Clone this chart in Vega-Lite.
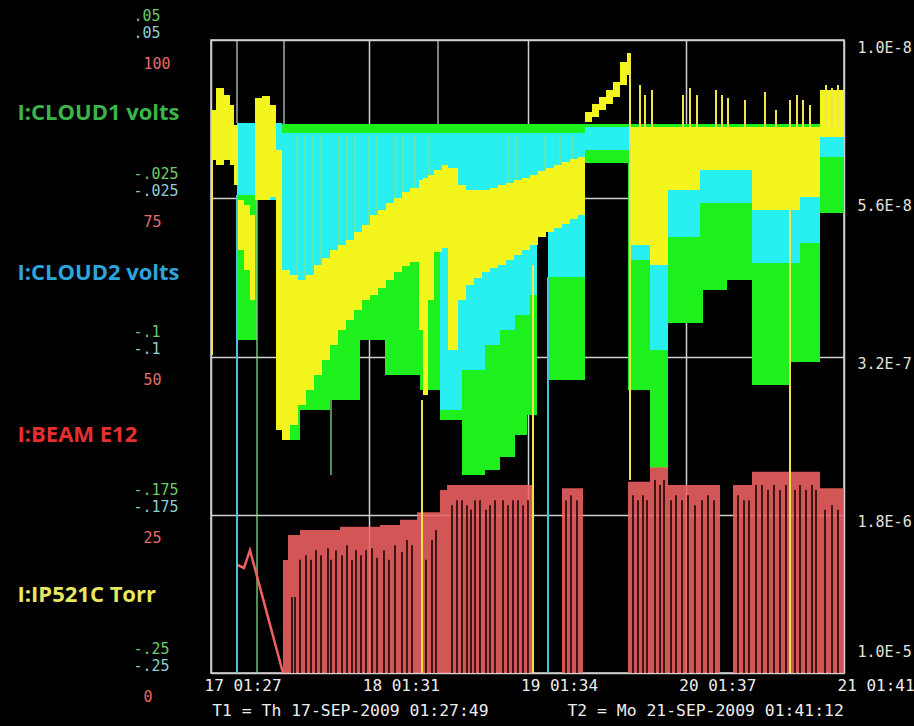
{
  "$schema": "https://vega.github.io/schema/vega-lite/v6.json",
  "width": 633,
  "height": 633,
  "autosize": {"type": "none"},
  "padding": {"left": 211, "top": 40, "right": 70, "bottom": 53},
  "background": "#000000",
  "config": {
    "view": {"stroke": "#d8d8d8", "strokeWidth": 1.5},
    "axis": {"labelOverlap": false, "labelFlush": false, "labelBound": false, "domain": false, "ticks": false, "tickSize": 0, "title": null}
  },
  "datasets": {
    "cloud1": [
      {"day": 0.1643, "hi": 0.0102, "lo": -0.0922},
      {"day": 0.2907, "hi": 0.0102, "lo": -0.0258},
      {"day": 0.4487, "hi": 0.0102, "lo": -0.1396},
      {"day": 0.5624, "hi": 0.0102, "lo": -0.1254},
      {"day": 0.7520, "hi": 0.0102, "lo": -0.1206},
      {"day": 0.9415, "hi": 0.0102, "lo": -0.0922},
      {"day": 1.0995, "hi": 0.0102, "lo": -0.1088},
      {"day": 1.3207, "hi": 0.0102, "lo": -0.1159},
      {"day": 1.4471, "hi": 0.0102, "lo": -0.1301},
      {"day": 1.5861, "hi": 0.0102, "lo": -0.1562},
      {"day": 1.7314, "hi": 0.0102, "lo": -0.1538},
      {"day": 1.8262, "hi": 0.0102, "lo": -0.1476},
      {"day": 1.9210, "hi": 0.0102, "lo": -0.1372},
      {"day": 1.9968, "hi": 0.0102, "lo": -0.1277},
      {"day": 2.0600, "hi": 0.0102, "lo": -0.0400},
      {"day": 2.1295, "hi": 0.0102, "lo": -0.1111},
      {"day": 2.3633, "hi": 0.0102, "lo": -0.0083},
      {"day": 2.6351, "hi": 0.0102, "lo": -0.1159},
      {"day": 2.7741, "hi": 0.0102, "lo": -0.1528},
      {"day": 2.8878, "hi": 0.0102, "lo": -0.0841},
      {"day": 3.1090, "hi": 0.0102, "lo": -0.0685},
      {"day": 3.2607, "hi": 0.0102, "lo": -0.0637},
      {"day": 3.4186, "hi": 0.0102, "lo": -0.1135},
      {"day": 3.6588, "hi": 0.0102, "lo": -0.1026},
      {"day": 3.8483, "hi": 0.0102, "lo": -0.0320},
      {"day": 4.0, "hi": 0.0102, "lo": -0.0320}
    ],
    "cloud2": [
      {"day": 0.1643, "hi": 0.0107, "lo": -0.0235},
      {"day": 0.2907, "hi": 0.0107, "lo": -0.0258},
      {"day": 0.4487, "hi": 0.0059, "lo": -0.0732},
      {"day": 0.5624, "hi": 0.0059, "lo": -0.0685},
      {"day": 0.7520, "hi": 0.0059, "lo": -0.0543},
      {"day": 0.9415, "hi": 0.0059, "lo": -0.0424},
      {"day": 1.1943, "hi": 0.0059, "lo": -0.0282},
      {"day": 1.4471, "hi": 0.0059, "lo": -0.1254},
      {"day": 1.5861, "hi": 0.0059, "lo": -0.1064},
      {"day": 1.7314, "hi": 0.0059, "lo": -0.0946},
      {"day": 1.8262, "hi": 0.0059, "lo": -0.0874},
      {"day": 1.9210, "hi": 0.0059, "lo": -0.0803},
      {"day": 2.0158, "hi": 0.0059, "lo": -0.0709},
      {"day": 2.0600, "hi": 0.0059, "lo": -0.0400},
      {"day": 2.1295, "hi": 0.0059, "lo": -0.0623},
      {"day": 2.3633, "hi": 0.0088, "lo": -0.0021},
      {"day": 2.6477, "hi": 0.0073, "lo": -0.0543},
      {"day": 2.7741, "hi": 0.0073, "lo": -0.0969},
      {"day": 2.8878, "hi": 0.0073, "lo": -0.0434},
      {"day": 3.0900, "hi": 0.0073, "lo": -0.0273},
      {"day": 3.4186, "hi": 0.0073, "lo": -0.0557},
      {"day": 3.7220, "hi": 0.0073, "lo": -0.0462},
      {"day": 3.8483, "hi": 0.0073, "lo": -0.0055},
      {"day": 4.0, "hi": 0.0073, "lo": -0.0055}
    ],
    "cloud1Spikes": [
      {"day": 0.2907, "hi": -0.0258, "lo": -0.25},
      {"day": 0.5435, "hi": 0.0050, "lo": -0.0685},
      {"day": 0.5940, "hi": 0.0050, "lo": -0.0637},
      {"day": 0.6446, "hi": 0.0050, "lo": -0.0590},
      {"day": 0.6951, "hi": 0.0050, "lo": -0.0661},
      {"day": 0.7583, "hi": -0.1206, "lo": -0.1562},
      {"day": 0.8089, "hi": 0.0050, "lo": -0.0543},
      {"day": 0.8594, "hi": 0.0050, "lo": -0.0495},
      {"day": 0.9100, "hi": 0.0050, "lo": -0.0448},
      {"day": 0.9985, "hi": 0.0050, "lo": -0.0472},
      {"day": 1.0490, "hi": 0.0050, "lo": -0.0424},
      {"day": 1.1627, "hi": 0.0050, "lo": -0.0353},
      {"day": 1.2132, "hi": 0.0050, "lo": -0.0329},
      {"day": 1.2891, "hi": 0.0050, "lo": -0.0282},
      {"day": 1.3776, "hi": 0.0050, "lo": -0.0258},
      {"day": 1.8768, "hi": 0.0050, "lo": -0.0211},
      {"day": 1.9273, "hi": 0.0050, "lo": -0.0211},
      {"day": 2.1106, "hi": 0.0050, "lo": -0.0211},
      {"day": 2.2054, "hi": 0.0050, "lo": -0.0211},
      {"day": 2.2812, "hi": 0.0050, "lo": -0.0211}
    ],
    "cloud2Spikes": [
      {"day": 0.1643, "hi": -0.0235, "lo": -0.25},
      {"day": 2.1295, "hi": -0.0623, "lo": -0.25}
    ],
    "cloud2TopSpikes": [
      {"day": 0.1643, "hi": 0.05, "lo": 0.0107},
      {"day": 0.4613, "hi": 0.05, "lo": 0.0102},
      {"day": 1.4345, "hi": 0.05, "lo": 0.0102}
    ],
    "ip521c": [
      {"day": 0.0063, "pmin": 2.147e-8, "pmax": 3.705e-8},
      {"day": 0.0316, "pmin": 1.689e-8, "pmax": 3.912e-8},
      {"day": 0.0821, "pmin": 1.823e-8, "pmax": 3.705e-8},
      {"day": 0.1201, "pmin": 2.033e-8, "pmax": 3.912e-8},
      {"day": 0.1453, "pmin": 2.528e-8, "pmax": 4.867e-8},
      {"day": 0.1706, "pmin": 5.733e-8, "pmax": 9.893e-8},
      {"day": 0.2085, "pmin": 6.053e-8, "pmax": 1.230e-7},
      {"day": 0.2464, "pmin": 6.752e-8, "pmax": 1.707e-7},
      {"day": 0.2780, "pmin": 1.883e-8, "pmax": 5.733e-8},
      {"day": 0.3223, "pmin": 1.843e-8, "pmax": 5.733e-8},
      {"day": 0.3728, "pmin": 2.033e-8, "pmax": 5.548e-8},
      {"day": 0.4107, "pmin": 3.321e-8, "pmax": 7.053e-7},
      {"day": 0.4487, "pmin": 1.230e-7, "pmax": 7.865e-7},
      {"day": 0.4992, "pmin": 1.299e-7, "pmax": 6.677e-7},
      {"day": 0.5498, "pmin": 1.372e-7, "pmax": 5.367e-7},
      {"day": 0.6003, "pmin": 1.299e-7, "pmax": 4.558e-7},
      {"day": 0.6509, "pmin": 1.165e-7, "pmax": 3.869e-7},
      {"day": 0.7014, "pmin": 1.079e-7, "pmax": 3.285e-7},
      {"day": 0.7520, "pmin": 9.893e-8, "pmax": 2.789e-7},
      {"day": 0.8025, "pmin": 9.368e-8, "pmax": 2.368e-7},
      {"day": 0.8531, "pmin": 8.869e-8, "pmax": 2.123e-7},
      {"day": 0.9036, "pmin": 8.128e-8, "pmax": 1.904e-7},
      {"day": 0.9542, "pmin": 7.530e-8, "pmax": 1.707e-7},
      {"day": 1.0047, "pmin": 6.752e-8, "pmax": 1.616e-7},
      {"day": 1.0553, "pmin": 6.393e-8, "pmax": 1.497e-7},
      {"day": 1.1058, "pmin": 5.923e-8, "pmax": 1.372e-7},
      {"day": 1.1564, "pmin": 5.609e-8, "pmax": 1.258e-7},
      {"day": 1.2069, "pmin": 5.253e-8, "pmax": 1.178e-7},
      {"day": 1.2575, "pmin": 5.029e-8, "pmax": 1.128e-7},
      {"day": 1.3144, "pmin": 4.608e-8, "pmax": 2.368e-7},
      {"day": 1.3396, "pmin": 4.508e-8, "pmax": 4.814e-7},
      {"day": 1.3712, "pmin": 4.363e-8, "pmax": 1.707e-7},
      {"day": 1.4092, "pmin": 4.131e-8, "pmax": 1.011e-7},
      {"day": 1.4597, "pmin": 3.912e-8, "pmax": 9.677e-8},
      {"day": 1.4976, "pmin": 4.043e-8, "pmax": 2.946e-7},
      {"day": 1.5608, "pmin": 4.867e-8, "pmax": 1.707e-7},
      {"day": 1.6114, "pmin": 5.140e-8, "pmax": 1.449e-7},
      {"day": 1.6619, "pmin": 5.140e-8, "pmax": 1.343e-7},
      {"day": 1.7125, "pmin": 5.140e-8, "pmax": 1.258e-7},
      {"day": 1.7630, "pmin": 5.029e-8, "pmax": 1.204e-7},
      {"day": 1.8136, "pmin": 4.867e-8, "pmax": 1.165e-7},
      {"day": 1.8641, "pmin": 4.761e-8, "pmax": 1.103e-7},
      {"day": 1.9147, "pmin": 4.608e-8, "pmax": 1.045e-7},
      {"day": 1.9652, "pmin": 4.508e-8, "pmax": 9.893e-8},
      {"day": 2.0158, "pmin": 4.363e-8, "pmax": 9.368e-8},
      {"day": 2.0663, "pmin": 4.177e-8, "pmax": 8.584e-8},
      {"day": 2.1169, "pmin": 4.043e-8, "pmax": 8.128e-8},
      {"day": 2.1675, "pmin": 3.912e-8, "pmax": 7.781e-8},
      {"day": 2.2180, "pmin": 3.786e-8, "pmax": 7.448e-8},
      {"day": 2.2686, "pmin": 3.664e-8, "pmax": 7.052e-8},
      {"day": 2.3191, "pmin": 3.585e-8, "pmax": 6.752e-8},
      {"day": 2.3633, "pmin": 2.194e-8, "pmax": 2.447e-8},
      {"day": 2.4076, "pmin": 2.011e-8, "pmax": 2.317e-8},
      {"day": 2.4518, "pmin": 1.863e-8, "pmax": 2.147e-8},
      {"day": 2.4960, "pmin": 1.726e-8, "pmax": 2.011e-8},
      {"day": 2.5403, "pmin": 1.581e-8, "pmax": 1.863e-8},
      {"day": 2.5845, "pmin": 1.271e-8, "pmax": 1.634e-8},
      {"day": 2.6288, "pmin": 1.152e-8, "pmax": 1.465e-8},
      {"day": 2.6477, "pmin": 2.584e-8, "pmax": 9.368e-8},
      {"day": 2.7741, "pmin": 2.584e-8, "pmax": 1.165e-7},
      {"day": 2.8878, "pmin": 2.584e-8, "pmax": 5.140e-8},
      {"day": 3.0900, "pmin": 2.584e-8, "pmax": 4.131e-8},
      {"day": 3.4186, "pmin": 2.584e-8, "pmax": 6.393e-8},
      {"day": 3.7220, "pmin": 2.584e-8, "pmax": 5.548e-8},
      {"day": 3.8483, "pmin": 1.726e-8, "pmax": 2.883e-8},
      {"day": 4.0, "pmin": 1.726e-8, "pmax": 2.883e-8}
    ],
    "ip521cSpikes": [
      {"day": 0.0063, "pmin": 3.705e-8, "pmax": 3.112e-7},
      {"day": 1.3333, "pmin": 5.084e-7, "pmax": 1e-5},
      {"day": 2.0348, "pmin": 1.165e-7, "pmax": 1e-5},
      {"day": 2.6477, "pmin": 1.152e-8, "pmax": 1.217e-6},
      {"day": 3.6588, "pmin": 6.393e-8, "pmax": 1e-5},
      {"day": 2.7109, "pmin": 1.634e-8, "pmax": 2.584e-8},
      {"day": 2.7425, "pmin": 1.823e-8, "pmax": 2.584e-8},
      {"day": 2.7867, "pmin": 1.726e-8, "pmax": 2.584e-8},
      {"day": 2.9826, "pmin": 1.823e-8, "pmax": 2.584e-8},
      {"day": 3.0269, "pmin": 1.689e-8, "pmax": 2.584e-8},
      {"day": 3.0711, "pmin": 1.823e-8, "pmax": 2.584e-8},
      {"day": 3.1911, "pmin": 1.726e-8, "pmax": 2.584e-8},
      {"day": 3.2291, "pmin": 1.823e-8, "pmax": 2.584e-8},
      {"day": 3.2670, "pmin": 1.883e-8, "pmax": 2.584e-8},
      {"day": 3.3744, "pmin": 1.924e-8, "pmax": 2.584e-8},
      {"day": 3.5008, "pmin": 1.764e-8, "pmax": 2.584e-8},
      {"day": 3.5703, "pmin": 2.147e-8, "pmax": 2.584e-8},
      {"day": 3.6588, "pmin": 1.924e-8, "pmax": 2.584e-8},
      {"day": 3.7030, "pmin": 1.823e-8, "pmax": 2.584e-8},
      {"day": 3.7409, "pmin": 1.924e-8, "pmax": 2.584e-8},
      {"day": 3.7851, "pmin": 2.033e-8, "pmax": 2.584e-8},
      {"day": 3.8863, "pmin": 1.634e-8, "pmax": 2.584e-8},
      {"day": 3.9242, "pmin": 1.689e-8, "pmax": 2.584e-8},
      {"day": 3.9621, "pmin": 1.634e-8, "pmax": 2.584e-8}
    ],
    "beam": [
      {"day": 0.4550, "e12": 17.85},
      {"day": 0.4866, "e12": 21.8},
      {"day": 0.5624, "e12": 22.6},
      {"day": 0.8152, "e12": 23.1},
      {"day": 1.0679, "e12": 23.4},
      {"day": 1.1943, "e12": 24.2},
      {"day": 1.3017, "e12": 25.4},
      {"day": 1.4471, "e12": 28.9},
      {"day": 1.4913, "e12": 29.7},
      {"day": 2.0348, "e12": 0},
      {"day": 2.2180, "e12": 29.2},
      {"day": 2.3507, "e12": 0},
      {"day": 2.6351, "e12": 30.2},
      {"day": 2.7741, "e12": 32.5},
      {"day": 2.8878, "e12": 29.7},
      {"day": 3.2164, "e12": 0},
      {"day": 3.2986, "e12": 29.7},
      {"day": 3.4186, "e12": 31.8},
      {"day": 3.8483, "e12": 29.2},
      {"day": 4.0, "e12": 29.2}
    ],
    "beamEarly": [
      {"day": 0.1643, "e12": 17.1},
      {"day": 0.2085, "e12": 16.6},
      {"day": 0.2464, "e12": 19.4},
      {"day": 0.4550, "e12": 0}
    ],
    "beamDropouts": [
      {"day": 0.5118, "e12": 12.0}, {"day": 0.5308, "e12": 12.0},
      {"day": 0.5624, "e12": 17.9}, {"day": 0.6003, "e12": 18.6},
      {"day": 0.6319, "e12": 17.9}, {"day": 0.6635, "e12": 19.4},
      {"day": 0.6951, "e12": 18.6}, {"day": 0.7393, "e12": 19.7},
      {"day": 0.7583, "e12": 17.9}, {"day": 0.7899, "e12": 19.4},
      {"day": 0.8278, "e12": 18.6}, {"day": 0.8594, "e12": 20.2},
      {"day": 0.8910, "e12": 17.9}, {"day": 0.9163, "e12": 19.4},
      {"day": 0.9479, "e12": 18.6}, {"day": 0.9795, "e12": 19.4},
      {"day": 1.0174, "e12": 19.7}, {"day": 1.0490, "e12": 18.2},
      {"day": 1.0932, "e12": 19.4}, {"day": 1.1248, "e12": 17.9},
      {"day": 1.1627, "e12": 20.2}, {"day": 1.2069, "e12": 19.1},
      {"day": 1.2385, "e12": 21.0}, {"day": 1.2701, "e12": 20.2},
      {"day": 1.3586, "e12": 17.9}, {"day": 1.3965, "e12": 21.0},
      {"day": 1.4218, "e12": 22.6}, {"day": 1.5229, "e12": 26.5},
      {"day": 1.5545, "e12": 27.3}, {"day": 1.5861, "e12": 27.3},
      {"day": 1.6177, "e12": 26.5}, {"day": 1.6430, "e12": 25.8},
      {"day": 1.6682, "e12": 27.3}, {"day": 1.6998, "e12": 27.3},
      {"day": 1.7378, "e12": 25.8}, {"day": 1.7630, "e12": 26.5},
      {"day": 1.7946, "e12": 27.3}, {"day": 1.8452, "e12": 27.3},
      {"day": 1.8768, "e12": 26.5}, {"day": 1.9084, "e12": 27.3},
      {"day": 1.9400, "e12": 27.3}, {"day": 1.9716, "e12": 26.5},
      {"day": 2.0032, "e12": 27.3}, {"day": 2.2433, "e12": 27.3},
      {"day": 2.2749, "e12": 28.1}, {"day": 2.3128, "e12": 27.3},
      {"day": 2.6667, "e12": 28.1}, {"day": 2.6983, "e12": 27.3},
      {"day": 2.7299, "e12": 28.1}, {"day": 2.7551, "e12": 27.3},
      {"day": 2.8057, "e12": 30.5}, {"day": 2.8373, "e12": 29.7},
      {"day": 2.8626, "e12": 30.5}, {"day": 2.9068, "e12": 27.3},
      {"day": 2.9384, "e12": 28.1}, {"day": 2.9763, "e12": 27.3},
      {"day": 3.0142, "e12": 28.1}, {"day": 3.0584, "e12": 26.5},
      {"day": 3.1027, "e12": 27.3}, {"day": 3.1406, "e12": 28.1},
      {"day": 3.1785, "e12": 27.3}, {"day": 3.3302, "e12": 28.1},
      {"day": 3.3681, "e12": 27.3}, {"day": 3.3997, "e12": 27.3},
      {"day": 3.4439, "e12": 29.7}, {"day": 3.4818, "e12": 29.7},
      {"day": 3.5197, "e12": 28.9}, {"day": 3.5576, "e12": 29.7},
      {"day": 3.5956, "e12": 28.9}, {"day": 3.6335, "e12": 29.7},
      {"day": 3.6903, "e12": 28.9}, {"day": 3.7220, "e12": 29.7},
      {"day": 3.7599, "e12": 28.9}, {"day": 3.7978, "e12": 29.7},
      {"day": 3.8231, "e12": 28.9}, {"day": 3.8800, "e12": 25.8},
      {"day": 3.9242, "e12": 26.5}, {"day": 3.9621, "e12": 25.8}
    ]
  },
  "layer": [
    {
      "data": {"name": "cloud1"},
      "mark": {"type": "area", "interpolate": "step-after", "color": "#1ef01e"},
      "encoding": {
        "x": {
          "field": "day", "type": "quantitative",
          "scale": {"domain": [0, 4], "nice": false, "zero": false},
          "axis": {
            "values": [0, 1, 2, 3, 4],
            "labelExpr": "['17 01:27', '18 01:31', '19 01:34', '20 01:37', '21 01:41'][round(datum.value)]",
            "labelFont": "DejaVu Sans Mono", "labelFontSize": 16, "labelColor": "#eeeeee",
            "labelAlign": "left", "labelBaseline": "top", "labelOffset": -7, "labelPadding": 4,
            "grid": true, "gridColor": "#d0d0d0", "gridWidth": 1.5,
            "title": "T1 = Th 17-SEP-2009 01:27:49\u00a0\u00a0\u00a0\u00a0\u00a0\u00a0\u00a0\u00a0T2 = Mo 21-SEP-2009 01:41:12",
            "titleFont": "DejaVu Sans Mono", "titleFontSize": 16.4, "titleFontWeight": "normal",
            "titleColor": "#eeeeee", "titlePadding": 9
          }
        },
        "y": {
          "field": "hi", "type": "quantitative",
          "scale": {"domain": [-0.25, 0.05], "nice": false, "zero": false},
          "axis": {
            "orient": "left",
            "values": [0.05, -0.025, -0.1, -0.175, -0.25],
            "labelExpr": "(datum.value < 0 ? '-' : '\u00a0') + replace(format(abs(datum.value), '.3~f'), '0.', '.')",
            "labelFont": "DejaVu Sans Mono", "labelFontSize": 15, "labelColor": "#6ccb6c",
            "labelAlign": "left", "labelPadding": 78, "labelOffset": -25,
            "grid": true, "gridColor": "#d0d0d0", "gridWidth": 1.5
          }
        },
        "y2": {"field": "lo"}
      }
    },
    {
      "data": {"name": "cloud2"},
      "mark": {"type": "area", "interpolate": "step-after", "color": "#28f0f0"},
      "encoding": {
        "x": {"field": "day", "type": "quantitative"},
        "y": {
          "field": "hi", "type": "quantitative",
          "scale": {"domain": [-0.25, 0.05], "nice": false, "zero": false},
          "axis": {
            "orient": "left",
            "values": [0.05, -0.025, -0.1, -0.175, -0.25],
            "labelExpr": "(datum.value < 0 ? '-' : '\u00a0') + replace(format(abs(datum.value), '.3~f'), '0.', '.')",
            "labelFont": "DejaVu Sans Mono", "labelFontSize": 15, "labelColor": "#8ccfd2",
            "labelAlign": "left", "labelPadding": 78, "labelOffset": -8, "grid": false
          }
        },
        "y2": {"field": "lo"}
      }
    },
    {
      "data": {"name": "cloud2TopSpikes"},
      "mark": {"type": "rule", "color": "#c8d8d8", "strokeWidth": 1.5, "opacity": 0.8},
      "encoding": {
        "x": {"field": "day", "type": "quantitative"},
        "y": {"field": "hi", "type": "quantitative", "scale": {"domain": [-0.25, 0.05], "nice": false, "zero": false}, "axis": null},
        "y2": {"field": "lo"}
      }
    },
    {
      "data": {"name": "cloud1Spikes"},
      "mark": {"type": "rule", "color": "#7fe08a", "strokeWidth": 1.5, "opacity": 0.85},
      "encoding": {
        "x": {"field": "day", "type": "quantitative"},
        "y": {"field": "hi", "type": "quantitative", "scale": {"domain": [-0.25, 0.05], "nice": false, "zero": false}, "axis": null},
        "y2": {"field": "lo"}
      }
    },
    {
      "data": {"name": "ip521c"},
      "mark": {"type": "area", "interpolate": "step-after", "color": "#f5f51e"},
      "encoding": {
        "x": {"field": "day", "type": "quantitative"},
        "y": {
          "field": "pmin", "type": "quantitative",
          "scale": {"type": "log", "domain": [1e-8, 1e-5], "reverse": true, "nice": false},
          "axis": {
            "orient": "right",
            "values": [1e-8, 5.6234e-8, 3.1623e-7, 1.7783e-6, 1e-5],
            "labelExpr": "upper(format(datum.value, '.1e'))",
            "labelFont": "DejaVu Sans Mono", "labelFontSize": 15, "labelColor": "#e2e2da",
            "labelAlign": "left", "labelPadding": 13,
            "labelOffset": {"condition": {"test": "datum.value > 5e-6", "value": -22}, "value": 7},
            "grid": false
          }
        },
        "y2": {"field": "pmax"}
      }
    },
    {
      "data": {"name": "beam"},
      "mark": {"type": "area", "interpolate": "step-after", "color": "#ef6262", "opacity": 0.88},
      "encoding": {
        "x": {"field": "day", "type": "quantitative"},
        "y": {
          "field": "e12", "type": "quantitative",
          "scale": {"domain": [0, 100], "nice": false, "zero": false},
          "axis": {
            "orient": "left",
            "values": [0, 25, 50, 75, 100],
            "labelFont": "DejaVu Sans Mono", "labelFontSize": 15, "labelColor": "#e66a6a",
            "labelAlign": "left", "labelPadding": 68, "labelOffset": 23, "grid": false
          }
        }
      }
    },
    {
      "data": {"name": "beamEarly"},
      "mark": {"type": "line", "color": "#ef6262", "strokeWidth": 2.5},
      "encoding": {
        "x": {"field": "day", "type": "quantitative"},
        "y": {"field": "e12", "type": "quantitative", "scale": {"domain": [0, 100], "nice": false, "zero": false}, "axis": null}
      }
    },
    {
      "data": {"name": "beamDropouts"},
      "mark": {"type": "rule", "color": "#1a0606", "strokeWidth": 1.6},
      "encoding": {
        "x": {"field": "day", "type": "quantitative"},
        "y": {
          "field": "e12", "type": "quantitative",
          "scale": {"domain": [0, 100], "nice": false, "zero": false},
          "axis": {
            "orient": "left",
            "values": [88.5, 63.2, 37.6, 12.4],
            "labelExpr": "datum.value > 80 ? 'I:CLOUD1 volts' : datum.value > 50 ? 'I:CLOUD2 volts' : datum.value > 25 ? 'I:BEAM E12' : 'I:IP521C Torr'",
            "labelFont": "Open Sans", "labelFontWeight": "bold", "labelFontSize": 22,
            "labelColor": {"condition": [
              {"test": "datum.value > 80", "value": "#3bb54a"},
              {"test": "datum.value > 50", "value": "#2ea4dc"},
              {"test": "datum.value > 25", "value": "#e5302f"}
            ], "value": "#e9e75e"},
            "labelAlign": "left", "labelPadding": 194, "labelLimit": 0, "grid": false
          }
        },
        "y2": {"datum": 0}
      }
    },
    {
      "data": {"name": "cloud2Spikes"},
      "mark": {"type": "rule", "color": "#45c4dc", "strokeWidth": 2},
      "encoding": {
        "x": {"field": "day", "type": "quantitative"},
        "y": {"field": "hi", "type": "quantitative", "scale": {"domain": [-0.25, 0.05], "nice": false, "zero": false}, "axis": null},
        "y2": {"field": "lo"}
      }
    },
    {
      "data": {"name": "ip521cSpikes"},
      "mark": {"type": "rule", "color": "#f2e44c", "strokeWidth": 2},
      "encoding": {
        "x": {"field": "day", "type": "quantitative"},
        "y": {"field": "pmin", "type": "quantitative", "scale": {"type": "log", "domain": [1e-8, 1e-5], "reverse": true, "nice": false}, "axis": null},
        "y2": {"field": "pmax"}
      }
    }
  ],
  "resolve": {"scale": {"y": "independent"}, "axis": {"y": "independent"}}
}
